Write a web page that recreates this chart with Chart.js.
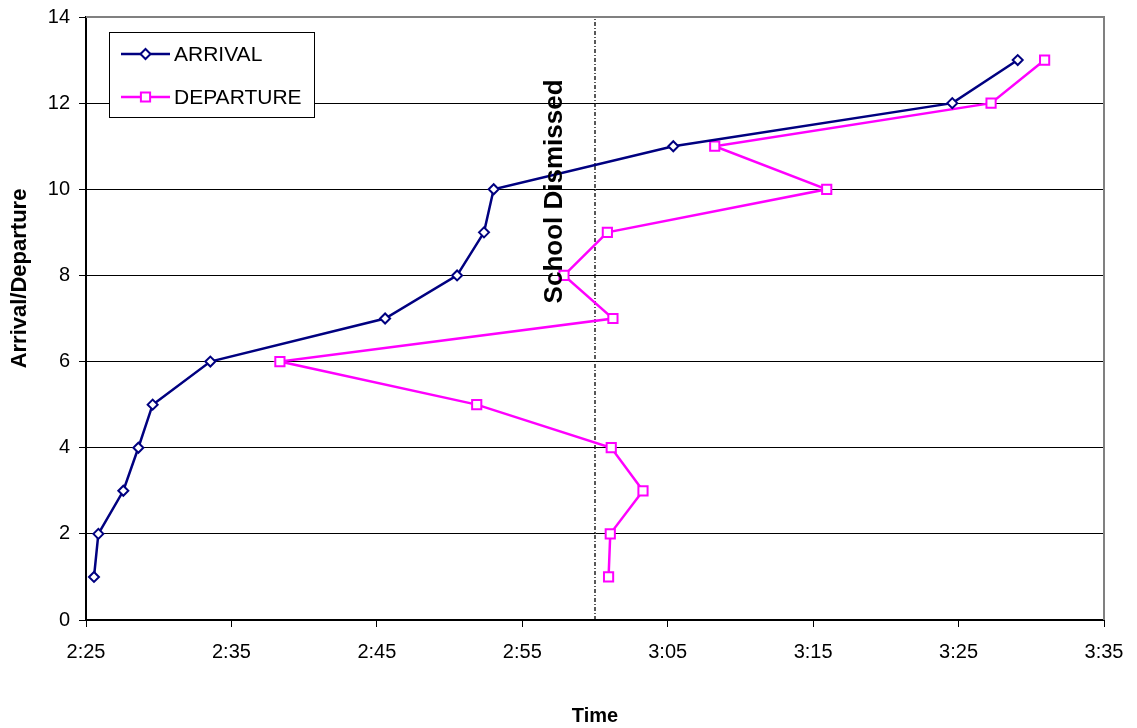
<!DOCTYPE html>
<html>
<head>
<meta charset="utf-8">
<script src="https://cdn.jsdelivr.net/npm/chart.js@4.4.1/dist/chart.umd.min.js"></script>
<style>
  html, body { margin: 0; padding: 0; background: #fff; }
  #wrap { width: 1137px; height: 728px; }
</style>
</head>
<body>
<div id="wrap"><canvas id="chart" width="1137" height="728"></canvas></div>
<script>
const FONT = "'Liberation Sans', Arial, sans-serif";

// clock times, y is the running count of kids
const ARRIVAL_TIMES   = ['2:25:33', '2:25:51', '2:27:34', '2:28:36', '2:29:35', '2:33:33', '2:45:34',
                         '2:50:31', '2:52:22', '2:53:02', '3:05:23', '3:24:34', '3:29:04'];
const DEPARTURE_TIMES = ['3:00:56', '3:01:03', '3:03:18', '3:01:07', '2:51:52', '2:38:20', '3:01:14',
                         '2:57:52', '3:00:51', '3:15:56', '3:08:14', '3:27:14', '3:30:55'];
const COUNTS          = [1, 2, 3, 4, 5, 6, 7, 8, 9, 10, 11, 12, 13];

const X_TICK_LABELS = ['2:25', '2:35', '2:45', '2:55', '3:05', '3:15', '3:25', '3:35'];
const START_TIME    = '2:25:00';
const END_TIME      = '3:35:00';
const DISMISSAL     = '3:00:00';

function toMinutes(t) {
  const [h, m, s] = t.split(':').map(Number);
  return h * 60 + m + (s || 0) / 60;
}
const T0 = toMinutes(START_TIME);
const rel = t => toMinutes(t) - T0;
const toPoints = times => times.map((t, i) => ({ x: rel(t), y: COUNTS[i] }));

function marker(ctx, style, x, y, r) {
  ctx.beginPath();
  if (style === 'rectRot') {
    ctx.moveTo(x - r, y); ctx.lineTo(x, y - r); ctx.lineTo(x + r, y); ctx.lineTo(x, y + r);
    ctx.closePath();
  } else {
    const h = r * Math.SQRT1_2;
    ctx.rect(x - h, y - h, 2 * h, 2 * h);
  }
  ctx.fill();
  ctx.stroke();
}

// frame, titles, annotation and the boxed legend
const extras = {
  id: 'extras',
  beforeDatasetsDraw(chart) {
    const { ctx, chartArea: a } = chart;
    ctx.save();
    ctx.strokeStyle = '#808080';
    ctx.lineWidth = 2;
    ctx.beginPath();
    ctx.moveTo(a.left, a.top);
    ctx.lineTo(a.right, a.top);
    ctx.lineTo(a.right, a.bottom);
    ctx.stroke();
    ctx.restore();
  },
  afterDatasetsDraw(chart) {
    const { ctx, chartArea: a, scales } = chart;
    ctx.save();

    // School Dismissed label next to the dotted line
    ctx.fillStyle = '#000';
    ctx.font = 'bold 26px ' + FONT;
    ctx.textAlign = 'center';
    ctx.textBaseline = 'middle';
    ctx.translate(scales.x.getPixelForValue(rel(DISMISSAL)) - 40, scales.y.getPixelForValue(9.95));
    ctx.rotate(-Math.PI / 2);
    ctx.fillText('School Dismissed', 0, 0);
    ctx.restore();

    // y axis title
    ctx.save();
    ctx.fillStyle = '#000';
    ctx.font = 'bold 22px ' + FONT;
    ctx.textAlign = 'center';
    ctx.textBaseline = 'middle';
    ctx.translate(20, (a.top + a.bottom) / 2 - 40);
    ctx.rotate(-Math.PI / 2);
    ctx.fillText('Arrival/Departure', 0, 0);
    ctx.restore();

    // legend
    ctx.save();
    const lx = a.left + 23, ly = a.top + 15;
    ctx.fillStyle = '#fff';
    ctx.fillRect(lx, ly, 205, 85);
    ctx.strokeStyle = '#000';
    ctx.lineWidth = 1;
    ctx.strokeRect(lx + 0.5, ly + 0.5, 205, 85);
    ctx.font = '21px ' + FONT;
    ctx.textBaseline = 'middle';
    chart.data.datasets.slice(0, 2).forEach((ds, i) => {
      const y = ly + 22 + i * 43;
      ctx.strokeStyle = ds.borderColor;
      ctx.lineWidth = ds.borderWidth;
      ctx.beginPath();
      ctx.moveTo(lx + 12, y);
      ctx.lineTo(lx + 61, y);
      ctx.stroke();
      ctx.fillStyle = '#fff';
      ctx.lineWidth = ds.pointBorderWidth;
      marker(ctx, ds.pointStyle, lx + 36.5, y, ds.pointRadius);
      ctx.fillStyle = '#000';
      ctx.fillText(ds.label, lx + 65, y + 1);
    });
    ctx.restore();
  }
};

new Chart(document.getElementById('chart'), {
  type: 'scatter',
  data: {
    datasets: [
      {
        label: 'ARRIVAL',
        data: toPoints(ARRIVAL_TIMES),
        showLine: true,
        borderColor: '#000080',
        borderWidth: 2.5,
        pointStyle: 'rectRot',
        pointRadius: 5,
        pointBackgroundColor: '#fff',
        pointBorderColor: '#000080',
        pointBorderWidth: 2,
      },
      {
        label: 'DEPARTURE',
        data: toPoints(DEPARTURE_TIMES),
        showLine: true,
        borderColor: '#ff00ff',
        borderWidth: 2.5,
        pointStyle: 'rect',
        pointRadius: 6.5,
        pointBackgroundColor: '#fff',
        pointBorderColor: '#ff00ff',
        pointBorderWidth: 2,
      },
      {
        label: 'dismissal',
        data: [{ x: rel(DISMISSAL), y: 0 }, { x: rel(DISMISSAL), y: 14 }],
        showLine: true,
        borderColor: '#000',
        borderWidth: 1.3,
        borderDash: [4, 2, 1, 2],
        pointRadius: 0,
        order: 5,
      },
    ],
  },
  options: {
    responsive: false,
    animation: false,
    devicePixelRatio: 1,
    layout: { padding: { top: 17, right: 33, left: 0, bottom: 0 } },
    plugins: { legend: { display: false }, tooltip: { enabled: false } },
    scales: {
      x: {
        type: 'linear',
        min: 0,
        max: rel(END_TIME),
        afterFit: s => { s.height = 108; },
        afterBuildTicks: s => { s.ticks = X_TICK_LABELS.map((_, i) => ({ value: i * 10 })); },
        ticks: {
          color: '#000',
          font: { family: FONT, size: 20 },
          padding: 13,
          maxRotation: 0,
          autoSkip: false,
          callback: (v, i) => X_TICK_LABELS[i],
        },
        grid: { drawOnChartArea: false, color: '#000', tickLength: 7 },
        border: { color: '#000', width: 2 },
        title: {
          display: true,
          text: 'Time',
          color: '#000',
          font: { family: FONT, size: 20, weight: 'bold' },
          padding: { top: 0, bottom: 0 },
        },
      },
      y: {
        min: 0,
        max: 14,
        afterFit: s => { s.width = 86; s.paddingTop = 0; s.paddingBottom = 0; },
        ticks: {
          stepSize: 2,
          color: '#000',
          font: { family: FONT, size: 20 },
          padding: 9,
        },
        grid: { color: '#000', lineWidth: 1, tickLength: 7 },
        border: { color: '#000', width: 2 },
      },
    },
  },
  plugins: [extras],
});
</script>
</body>
</html>
